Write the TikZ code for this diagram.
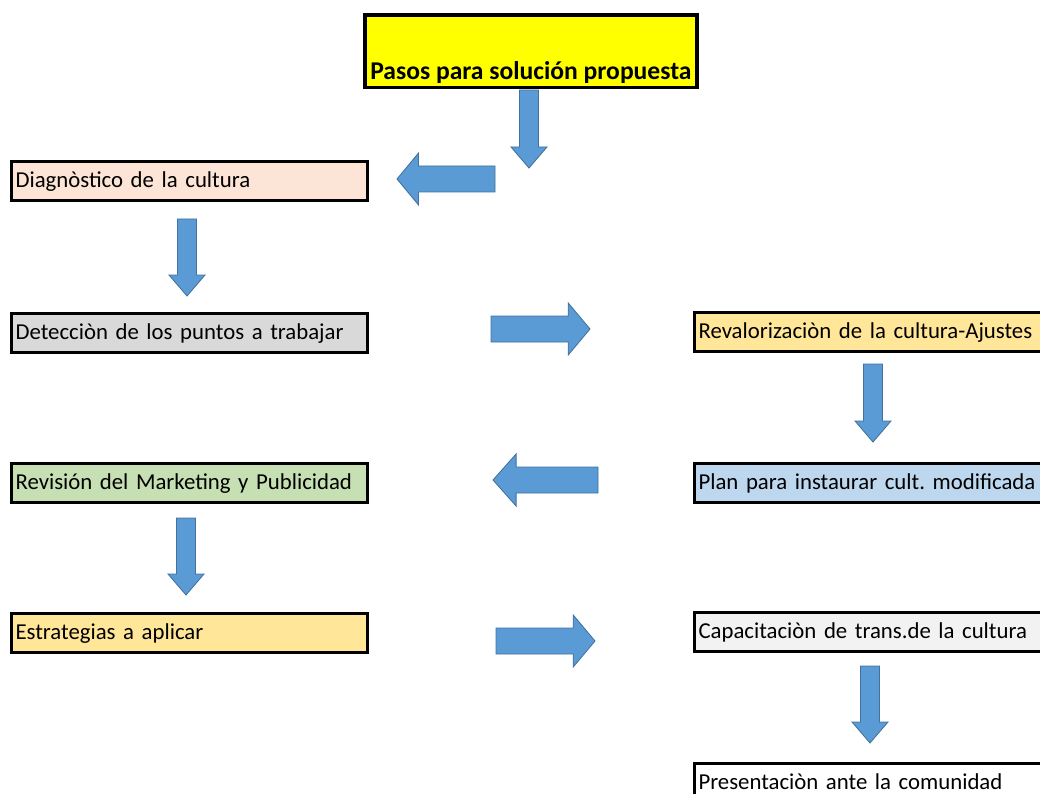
\documentclass[tikz,border=0pt]{standalone}
\usepackage{fontspec}
\setmainfont{Carlito}
\frenchspacing
\definecolor{amarillo}{HTML}{FFFF00}
\definecolor{rosa}{HTML}{FCE4D6}
\definecolor{gris}{HTML}{D9D9D9}
\definecolor{oro}{HTML}{FFE699}
\definecolor{verde}{HTML}{C6E0B4}
\definecolor{celeste}{HTML}{BDD7EE}
\definecolor{grisclaro}{HTML}{F2F2F2}
\definecolor{azul}{HTML}{5B9BD5}
\definecolor{azulborde}{HTML}{41719C}
% block arrows: (centre x, top y, tip y) and (tail x, tip x, centre y)
\def\flechaabajo(#1,#2,#3){\draw[flecha] ({#1-9.5},#2) -- ({#1+9.5},#2) -- ({#1+9.5},{#3-21}) -- ({#1+18},{#3-21}) -- (#1,#3) -- ({#1-18},{#3-21}) -- ({#1-9.5},{#3-21}) -- cycle;}
\def\flechalado(#1,#2,#3){\draw[flecha] (#1,{#3-13}) -- ({#2+0.22*(#1-#2)},{#3-13}) -- ({#2+0.22*(#1-#2)},{#3-26}) -- (#2,#3) -- ({#2+0.22*(#1-#2)},{#3+26}) -- ({#2+0.22*(#1-#2)},{#3+13}) -- (#1,{#3+13}) -- cycle;}

\begin{document}
\begin{tikzpicture}[x=0.025cm, y=-0.025cm,
	celda/.style={draw, line width=2.2pt, anchor=north west, inner ysep=0pt, inner xsep=0.1cm,
		text width=8.7cm, align=left, text height=0.65cm, text depth=0.325cm, font=\fontsize{16.2}{19}\selectfont},
	flecha/.style={fill=azul, draw=azulborde, line width=0.6pt}]
	%%%%% MARCO %%%%%
	\useasboundingbox (0,0) rectangle (1040,794);
	\clip (0,0) rectangle (1040,794);
	
	%%%%% CAJAS %%%%%
	\node[draw, line width=2.6pt, fill=amarillo, anchor=north west, inner sep=0pt, minimum width=8.3cm,
		text height=1.62cm, text depth=0.2cm, font=\bfseries\fontsize{18.2}{21}\selectfont] (titulo) at (363,13) {Pasos para solución propuesta};
	
	\node[celda, fill=rosa] (diag) at (10,160) {Diagnòstico de la cultura};
	\node[celda, fill=gris] (detec) at (10,312) {Detecciòn de los puntos a trabajar};
	\node[celda, fill=verde] (revis) at (10,462) {Revisión del Marketing y Publicidad};
	\node[celda, fill=oro] (estra) at (10,612) {Estrategias a aplicar};
	
	\node[celda, fill=oro] (reval) at (693,311) {Revalorizaciòn de la cultura-Ajustes};
	\node[celda, fill=celeste] (plan) at (693,462) {Plan para instaurar cult. modificada};
	\node[celda, fill=grisclaro] (capac) at (693,611) {Capacitaciòn de trans.de la cultura};
	\node[celda, fill=white] (present) at (693,762) {Presentaciòn ante la comunidad};
	
	%%%%% FLECHAS %%%%%
	\flechaabajo(529,90,168)
	\flechalado(495,397,179)
	\flechaabajo(187,219,296)
	\flechalado(491,590,329)
	\flechaabajo(873,364,442)
	\flechalado(598,493,480)
	\flechaabajo(186,518,595)
	\flechalado(496,595,641)
	\flechaabajo(870,666,743)
\end{tikzpicture}
\end{document}
